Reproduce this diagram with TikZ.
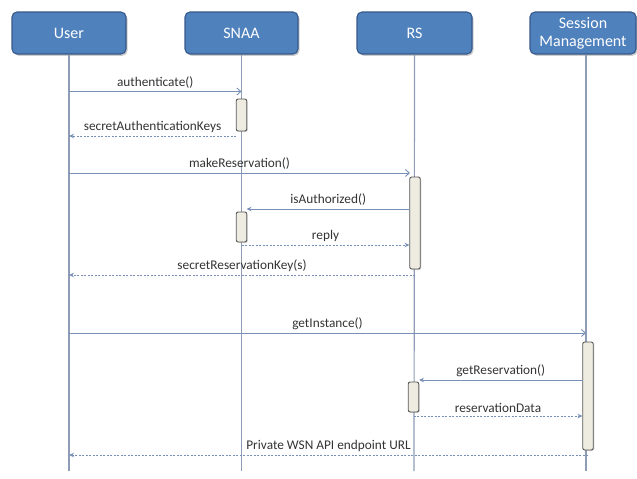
\documentclass[tikz,border=0pt]{standalone}
\usepackage{fontspec}
\setmainfont{Carlito}
\usetikzlibrary{arrows.meta,shadows}
\definecolor{boxfill}{HTML}{4F81BD}
\definecolor{boxline}{HTML}{35598A}
\definecolor{lifecol}{HTML}{8E9DB5}
\definecolor{msgcol}{HTML}{7890B8}
\definecolor{actfill}{HTML}{EEECE1}
\definecolor{actline}{HTML}{555555}
\definecolor{txtcol}{HTML}{333333}
\tikzset{
 actor/.style={draw=boxline, fill=boxfill, rounded corners=5pt, line width=1.1pt, text=white,
   font=\fontsize{16}{18}\selectfont, align=center, minimum height=42pt, inner sep=0pt,
   drop shadow={opacity=0.4, shadow xshift=1.5pt, shadow yshift=-1.8pt}},
 lifeline/.style={draw=lifecol, line width=1.2pt},
 act/.style={draw=actline, fill=actfill, rounded corners=2pt, line width=0.9pt, minimum width=10.5pt,
   inner sep=0pt, drop shadow={opacity=0.3, shadow xshift=1pt, shadow yshift=-1pt}},
 call/.style={draw=msgcol, line width=0.9pt, -{Straight Barb[length=4pt,width=7pt]}},
 callf/.style={draw=msgcol, line width=0.9pt, -{Stealth[length=5pt,width=4.5pt]}},
 ret/.style={draw=msgcol, line width=0.9pt, dash pattern=on 2pt off 1.5pt, -{Stealth[length=5pt,width=4.5pt]}},
 lbl/.style={midway, above=3pt, inner sep=0pt, text=txtcol, font=\fontsize{13.3}{15}\selectfont},
}
\begin{document}
\begin{tikzpicture}[x=1pt,y=-1pt]
\useasboundingbox (0,0) rectangle (637,479);
% actors
\node[actor, minimum width=114pt] (user) at (69,33) {User};
\node[actor, minimum width=113pt] (snaa) at (241.5,33) {SNAA};
\node[actor, minimum width=115pt] (rs) at (414.5,33) {RS};
\node[actor, minimum width=106pt] (sm) at (583,33) {Session\\Management};
% lifeline ends
\coordinate (userend) at (69,471);
\coordinate (snaaend) at (241.5,471);
\coordinate (rsend) at (414,471);
\coordinate (smend) at (586,471);
\draw[lifeline] (user.south) -- (userend);
\draw[lifeline] (snaa.south) -- (snaaend);
\draw[lifeline] (rs.south) -- (rsend);
\draw[lifeline] (smend |- sm.south) -- (smend);
% activations
\node[act, minimum height=32pt] (a1) at (241.5,115) {};
\node[act, minimum height=92pt] (a2) at (415,223) {};
\node[act, minimum height=30pt] (a3) at (241.5,227) {};
\node[act, minimum height=108pt] (a4) at (588,396) {};
\node[act, minimum height=30pt] (a5) at (413.5,397) {};
% message endpoints
\coordinate (m1s) at (69,91.5);   \coordinate (m1e) at (241.5,91.5);
\coordinate (m2s) at (236,136);   \coordinate (m2e) at (69,136);
\coordinate (m3s) at (69,173);    \coordinate (m3e) at (410,173);
\coordinate (m4s) at (410,209);   \coordinate (m4e) at (246.5,209);
\coordinate (m5s) at (241.5,245); \coordinate (m5e) at (409.5,245);
\coordinate (m6s) at (415,275);   \coordinate (m6e) at (69,275);
\coordinate (m7s) at (69,333);    \coordinate (m7e) at (586,333);
\coordinate (m8s) at (582.5,380); \coordinate (m8e) at (419,380);
\coordinate (m9s) at (413.5,416); \coordinate (m9e) at (582.5,416);
\coordinate (m10s) at (588,455);  \coordinate (m10e) at (69,455);
% messages
\draw[call] (m1s) -- (m1e) node[lbl] {authenticate()};
\draw[ret] (m2s) -- (m2e) node[lbl] {secretAuthenticationKeys};
\draw[call] (m3s) -- (m3e) node[lbl] {makeReservation()};
\draw[callf] (m4s) -- (m4e) node[lbl] {isAuthorized()};
\draw[ret] (m5s) -- (m5e) node[lbl] {reply};
\draw[ret] (m6s) -- (m6e) node[lbl] {secretReservationKey(s)};
\draw[call] (m7s) -- (m7e) node[lbl] {getInstance()};
\draw[callf] (m8s) -- (m8e) node[lbl] {getReservation()};
\draw[ret] (m9s) -- (m9e) node[lbl] {reservationData};
\draw[ret] (m10s) -- (m10e) node[lbl] {Private WSN API endpoint URL};
\end{tikzpicture}
\end{document}
